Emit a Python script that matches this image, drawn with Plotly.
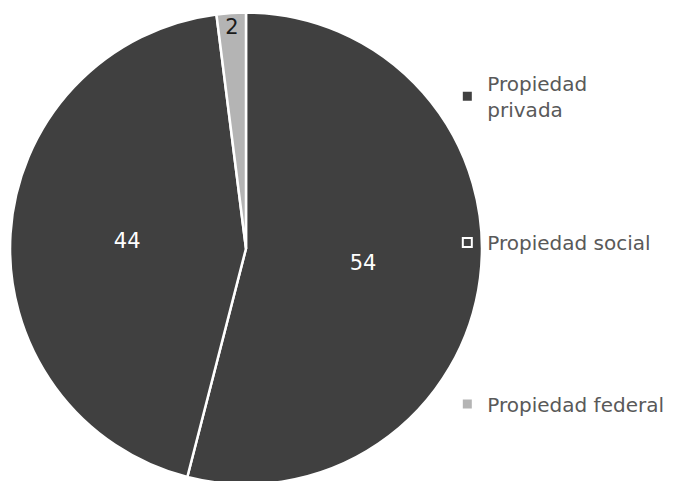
import plotly.graph_objects as go

categories = ["Propiedad privada", "Propiedad social", "Propiedad federal"]
legend_labels = ["Propiedad<br>privada", "Propiedad social", "Propiedad federal"]
values = [54, 44, 2]
colors = ["#404040", "#404040", "#b4b4b4"]
text_colors = ["#ffffff", "#ffffff", "#1a1a1a"]

fig = go.Figure()
fig.add_trace(go.Pie(
    labels=categories, values=values, sort=False, direction="clockwise", rotation=0,
    marker=dict(colors=colors, line=dict(color="#ffffff", width=2.5)),
    texttemplate="%{value}", textposition="inside",
    insidetextfont=dict(color=text_colors, size=21, family="DejaVu Sans"),
    insidetextorientation="horizontal",
    showlegend=False, hoverinfo="label+value",
    domain=dict(x=[0.003, 0.698], y=[0.0, 1.0]),
))

legend_names = ["legend", "legend2", "legend3"]
legend_y = [0.884, 0.553, 0.217]
for i, name in enumerate(legend_names):
    fig.add_trace(go.Scatter(
        x=[None], y=[None], mode="markers", name=legend_labels[i], legend=name,
        marker=dict(symbol="square", size=9, color=colors[i],
                    line=dict(color="#ffffff", width=2 if i == 1 else 0)),
    ))

leg_common = dict(x=0.647, xanchor="left", yanchor="top", bgcolor="rgba(0,0,0,0)",
                  font=dict(family="DejaVu Sans", size=20, color="#595959"),
                  itemwidth=30)
fig.update_layout(
    width=679, height=481, margin=dict(l=0, r=0, t=0, b=0),
    paper_bgcolor="#ffffff", plot_bgcolor="rgba(0,0,0,0)",
    xaxis=dict(visible=False), yaxis=dict(visible=False),
    legend=dict(y=legend_y[0], **leg_common),
    legend2=dict(y=legend_y[1], **leg_common),
    legend3=dict(y=legend_y[2], **leg_common),
)
fig.write_html("out.html")
